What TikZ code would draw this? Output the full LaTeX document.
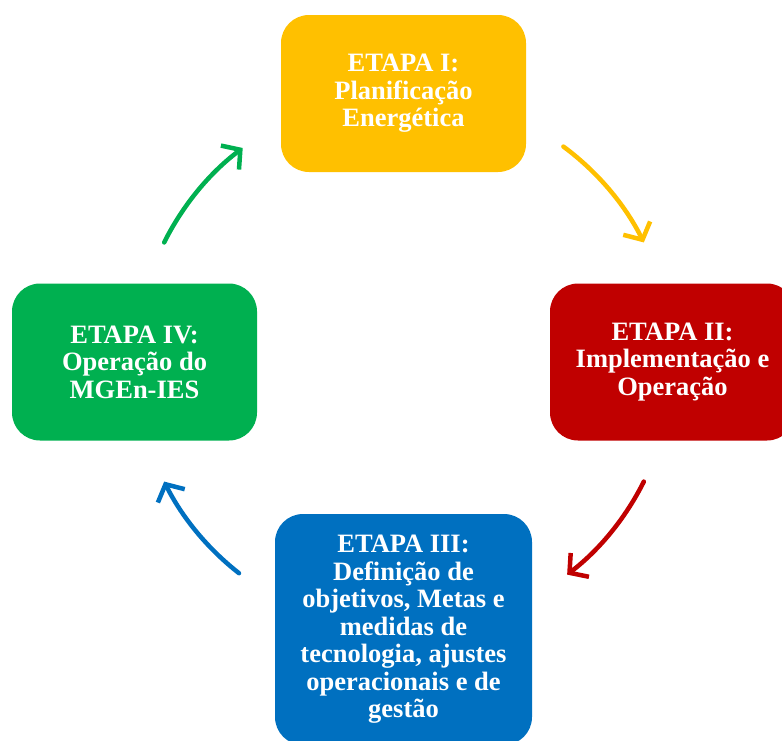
\documentclass[tikz,border=0pt]{standalone}
\usepackage{fontspec}
\setmainfont{Liberation Serif}
\usetikzlibrary{arrows.meta}
\definecolor{cyellow}{HTML}{FFC000}
\definecolor{cred}{HTML}{C00000}
\definecolor{cgreen}{HTML}{00B050}
\definecolor{cblue}{HTML}{0070C0}
\begin{document}
\begin{tikzpicture}[x=1pt,y=1pt,
  stage/.style={rounded corners=28pt, minimum width=245pt, minimum height=157pt, inner sep=0pt, align=center, text=white, font=\bfseries\fontsize{26.5}{27.5}\selectfont},
  flow/.style={line width=4.5pt, line cap=round, -{Straight Barb[length=13pt,width=30pt]}}
]
\useasboundingbox (0,0) rectangle (782,-740);
\clip (0,0) rectangle (782,-740);
\node[stage, fill=cyellow] (s1) at (403.5,-93.5) {ETAPA I:\\Planificação\\Energética};
\node[stage, fill=cred] (s2) at (672.5,-362) {ETAPA II:\\Implementação e\\Operação};
\node[stage, fill=cblue, minimum width=257pt, minimum height=231pt] (s3) at (403.5,-629.5) {ETAPA III:\\Definição de\\objetivos, Metas e\\medidas de\\tecnologia, ajustes\\operacionais e de\\gestão};
\node[stage, fill=cgreen] (s4) at (134.5,-362) {ETAPA IV:\\Operação do\\MGEn-IES};
\coordinate (c) at (404,-362);
\draw[flow, cyellow] ([shift={(53.5:268)}]c) arc[start angle=53.5, end angle=26.5, radius=268];
\draw[flow, cred] ([shift={(-26.5:268)}]c) arc[start angle=-26.5, end angle=-52.5, radius=268];
\draw[flow, cblue] ([shift={(-128:268)}]c) arc[start angle=-128, end angle=-153.5, radius=268];
\draw[flow, cgreen] ([shift={(153.5:268)}]c) arc[start angle=153.5, end angle=127, radius=268];
\end{tikzpicture}
\end{document}
